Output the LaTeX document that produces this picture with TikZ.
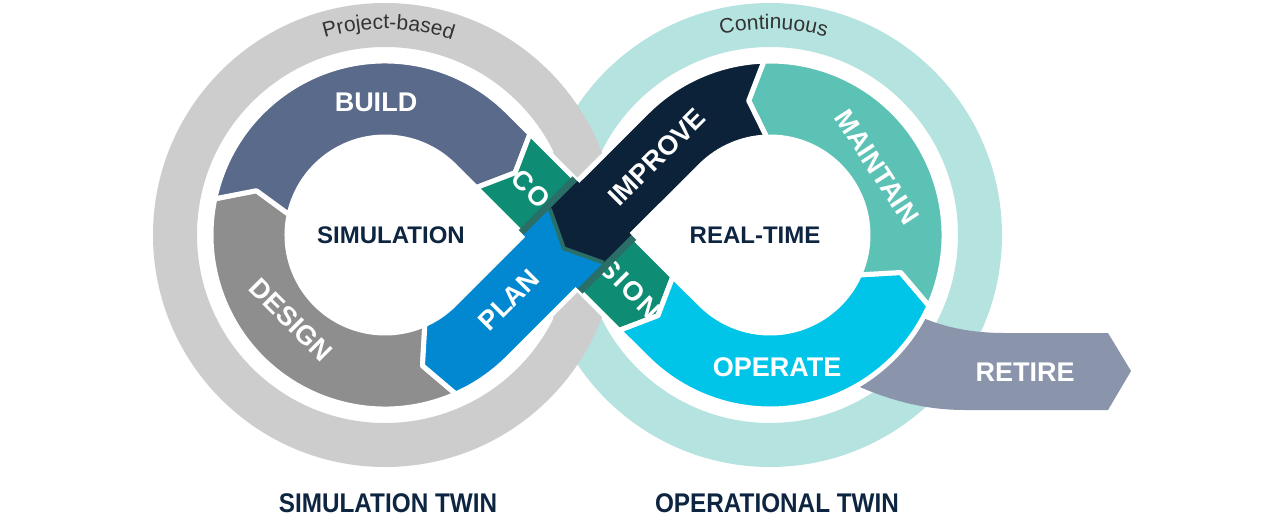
\documentclass[tikz,border=0pt]{standalone}
\usepackage{fontspec}
\usepackage{graphicx}
\setmainfont{Liberation Sans}
\usetikzlibrary{calc,decorations.text}
\definecolor{ringgray}{HTML}{CDCDCD}
\definecolor{ringteal}{HTML}{B5E3DF}
\definecolor{cbuild}{HTML}{5A6A8B}
\definecolor{cdesign}{HTML}{8E8E8E}
\definecolor{cplan}{HTML}{0288D1}
\definecolor{ccomm}{HTML}{0F8C74}
\definecolor{cimprove}{HTML}{0C2239}
\definecolor{cmaintain}{HTML}{5CC2B6}
\definecolor{coperate}{HTML}{00C5E8}
\definecolor{cretire}{HTML}{8A95AB}
\definecolor{cshadow}{HTML}{2A6E68}
\definecolor{navytext}{HTML}{0D2540}
\definecolor{ringtext}{HTML}{333333}
\begin{document}
\begin{tikzpicture}[x=1pt,y=-1pt,
  seg/.style={draw=white, line width=5pt, line join=round},
  lbl/.style={text=white, font=\bfseries\fontsize{27}{27}\selectfont, inner sep=0pt},
  ctr/.style={text=navytext, font=\bfseries\fontsize{24}{24}\selectfont, inner sep=0pt},
  twin/.style={text=navytext, font=\bfseries\fontsize{27}{27}\selectfont, inner sep=0pt}]
\useasboundingbox[fill=white] (0,0) rectangle (1284,516);
\coordinate (L) at (385,235);
\coordinate (R) at (770,235);
% rings
\fill[ringteal, even odd rule] (R) circle[radius=232] (R) circle[radius=188];
\fill[ringgray, even odd rule] (L) circle[radius=232] (L) circle[radius=188];
\path[decorate, decoration={text along path, text align=center,
  text={|\fontsize{21}{21}\selectfont\color{ringtext}|Project-based}}]
  ($(L)+(236:206)$) arc[start angle=236, end angle=306, radius=206];
\path[decorate, decoration={text along path, text align=center,
  text={|\fontsize{21}{21}\selectfont\color{ringtext}|Continuous}}]
  ($(R)+(236:206)$) arc[start angle=236, end angle=306, radius=206];
% retire
\fill[cretire] (880,300) -- (923,318) .. controls (945,327) and (970,333) .. (1005,333)
  -- (1108,333) -- (1131,371) -- (1108,410) -- (965,410)
  .. controls (920,410) and (885,398) .. (855,385) -- cycle;
% design
\filldraw[seg, fill=cdesign] ($(L)+(66:174)$) arc[start angle=66, end angle=192, radius=174]
  -- ($(L)+(199:136)$) -- ($(L)+(192:98)$) arc[start angle=192, end angle=66, radius=98]
  -- ($(L)+(74:136)$) -- cycle;
% build
\filldraw[seg, fill=cbuild] ($(L)+(192:174)$) arc[start angle=192, end angle=315, radius=174]
  -- (529.96,133.88) -- (515.11,172.77) -- (476.22,187.62)
  -- ($(L)+(315:98)$) arc[start angle=315, end angle=192, radius=98]
  -- ($(L)+(199:136)$) -- cycle;
% commission
\filldraw[seg, fill=ccomm] (529.96,133.88) -- (672.80,276.72) -- (657.95,315.61)
  -- (619.06,330.46) -- (476.22,187.62) -- (515.11,172.77) -- cycle;
\node[lbl, rotate=-45, font=\bfseries\fontsize{27}{27}\selectfont\addfontfeatures{LetterSpace=9}] (comm) at (586,244) {COMMISSION};
% operate
\filldraw[seg, fill=coperate] (619.06,330.46) -- ($(R)+(135:174)$)
  arc[start angle=135, end angle=24, radius=174] -- ($(R)+(16:136)$)
  -- ($(R)+(24:98)$) arc[start angle=24, end angle=135, radius=98]
  -- (672.80,276.72) -- (657.95,315.61) -- cycle;
% maintain
\filldraw[seg, fill=cmaintain] ($(R)+(24:174)$) arc[start angle=24, end angle=-92, radius=174]
  -- ($(R)+(-99:136)$) -- ($(R)+(-92:98)$) arc[start angle=-92, end angle=24, radius=98]
  -- ($(R)+(16:136)$) -- cycle;
% improve
\filldraw[seg, fill=cimprove] ($(R)+(-92:174)$) arc[start angle=-92, end angle=-135, radius=174]
  -- (549.76,208.84) -- (563.90,248.44) -- (603.50,262.58)
  -- ($(R)+(-135:98)$) arc[start angle=-135, end angle=-92, radius=98]
  -- ($(R)+(-99:136)$) -- cycle;
% plan
\filldraw[seg, fill=cplan] (603.50,262.58) -- ($(L)+(45:174)$)
  arc[start angle=45, end angle=66, radius=174] -- ($(L)+(74:136)$)
  -- ($(L)+(66:98)$) arc[start angle=66, end angle=45, radius=98]
  -- (549.76,208.84) -- (563.90,248.44) -- cycle;
% crossing shadow
\begin{scope}
\clip (508.04,111.96) -- (700.70,304.30) -- (646.96,358.04) -- (454.30,165.70) -- cycle;
\draw[cshadow, line width=14pt] (454.30,304.30) -- (646.96,111.96) -- (700.70,165.70) -- (508.04,358.04) -- cycle;
\fill[cplan] (603.50,262.58) -- (508.04,358.04) -- (454.30,304.30) -- (549.76,208.84) -- (563.90,248.44) -- cycle;
\fill[cimprove] (646.96,111.96) -- (549.76,208.84) -- (563.90,248.44) -- (603.50,262.58) -- (700.70,165.70) -- cycle;
\draw[cshadow, line width=4pt] (549.76,208.84) -- (563.90,248.44) -- (603.50,262.58);
\end{scope}
% labels
\node[lbl] (build) at (376,102) {BUILD};
\node[lbl, rotate=-45] (design) at (291,320) {DESIGN};
\node[lbl, rotate=45] (plan) at (509,300) {PLAN};
\node[lbl, rotate=45] (improve) at (657,157) {IMPROVE};
\node[lbl, rotate=-57] (maintain) at (877,167) {MAINTAIN};
\node[lbl] (operate) at (777,367) {OPERATE};
\node[lbl] (retire) at (1025,372) {RETIRE};
\node[ctr] (sim) at (391,235) {SIMULATION};
\node[ctr] (rt) at (755,235) {REAL-TIME};
\node[twin] (st) at (388,503) {\scalebox{0.9}[1]{SIMULATION TWIN}};
\node[twin] (ot) at (777,503) {\scalebox{0.9}[1]{OPERATIONAL TWIN}};
\end{tikzpicture}
\end{document}
